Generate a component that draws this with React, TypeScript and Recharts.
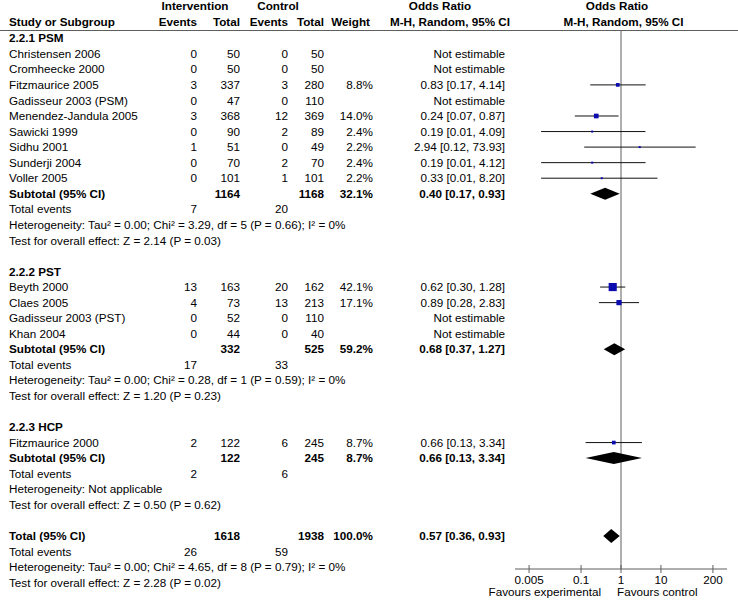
import React from 'react';
import { ComposedChart, XAxis, YAxis, Scatter, ReferenceLine } from 'recharts';

// studies, in plot order
const studyNames = [
  'Christensen 2006', 'Cromheecke 2000', 'Fitzmaurice 2005', 'Gadisseur 2003 (PSM)',
  'Menendez-Jandula 2005', 'Sawicki 1999', 'Sidhu 2001', 'Sunderji 2004', 'Voller 2005',
  'Beyth 2000', 'Claes 2005', 'Gadisseur 2003 (PST)', 'Khan 2004',
  'Fitzmaurice 2000',
];
const studyGroup = [0, 0, 0, 0, 0, 0, 0, 0, 0, 1, 1, 1, 1, 2];
const intEvents = [0, 0, 3, 0, 3, 0, 1, 0, 0, 13, 4, 0, 0, 2];
const intTotals = [50, 50, 337, 47, 368, 90, 51, 70, 101, 163, 73, 52, 44, 122];
const ctrlEvents = [0, 0, 3, 0, 12, 2, 0, 2, 1, 20, 13, 0, 0, 6];
const ctrlTotals = [50, 50, 280, 110, 369, 89, 49, 70, 101, 162, 213, 110, 40, 245];
const weights = [null, null, 8.8, null, 14.0, 2.4, 2.2, 2.4, 2.2, 42.1, 17.1, null, null, 8.7];
const oddsRatios = [null, null, 0.83, null, 0.24, 0.19, 2.94, 0.19, 0.33, 0.62, 0.89, null, null, 0.66];
const ciLow = [null, null, 0.17, null, 0.07, 0.01, 0.12, 0.01, 0.01, 0.30, 0.28, null, null, 0.13];
const ciHigh = [null, null, 4.14, null, 0.87, 4.09, 73.93, 4.12, 8.20, 1.28, 2.83, null, null, 3.34];

// subgroups
const groupTitles = ['2.2.1 PSM', '2.2.2 PST', '2.2.3 HCP'];
const groupIntTotals = [1164, 332, 122];
const groupCtrlTotals = [1168, 525, 245];
const groupWeights = [32.1, 59.2, 8.7];
const groupOR = [0.40, 0.68, 0.66];
const groupLow = [0.17, 0.37, 0.13];
const groupHigh = [0.93, 1.27, 3.34];
const groupIntEvents = [7, 17, 2];
const groupCtrlEvents = [20, 33, 6];
const groupHeterogeneity = [
  'Tau² = 0.00; Chi² = 3.29, df = 5 (P = 0.66); I² = 0%',
  'Tau² = 0.00; Chi² = 0.28, df = 1 (P = 0.59); I² = 0%',
  'Not applicable',
];
const groupOverall = ['Z = 2.14 (P = 0.03)', 'Z = 1.20 (P = 0.23)', 'Z = 0.50 (P = 0.62)'];

// pooled total
const totalN = [1618, 1938];
const totalEvents = [26, 59];
const totalWeight = 100.0;
const totalEstimate = [0.57, 0.36, 0.93];
const totalHeterogeneity = 'Tau² = 0.00; Chi² = 4.65, df = 8 (P = 0.79); I² = 0%';
const totalTest = 'Z = 2.28 (P = 0.02)';

const axisTicks = [0.005, 0.1, 1, 10, 200];

const FONT = '"Liberation Sans", Arial, sans-serif';
const FS = 11.7;
const GRAY = '#5f5f5f';
const BLUE = '#0b0bb0';
const AXIS_MIN = 1 / 450;
const AXIS_MAX = 450;
const ROW_TOP = -0.53;
const ROW_BOTTOM = 34.13;
const COL = { label: 9, ie: 197, it: 240, ce: 288, ct: 324, w: 373, or: 505 };

const fmtOR = (o: number, l: number, h: number) => `${o.toFixed(2)} [${l.toFixed(2)}, ${h.toFixed(2)}]`;

type Row = {
  row: number;
  kind: 'group' | 'study' | 'subtotal' | 'events' | 'het' | 'test' | 'total';
  label: string;
  ie?: string; it?: string; ce?: string; ct?: string; w?: string; or?: string;
};

const rows: Row[] = [];
const studyPoints: { x: number; y: number; w: number }[] = [];
const ciSegments: { lo: number; hi: number; y: number }[] = [];
const diamonds: { or: number; lo: number; hi: number; y: number; half: number }[] = [];

let r = 0;
groupTitles.forEach((title, g) => {
  rows.push({ row: r++, kind: 'group', label: title });
  studyNames.forEach((name, i) => {
    if (studyGroup[i] !== g) return;
    const or = oddsRatios[i];
    const w = weights[i];
    rows.push({
      row: r, kind: 'study', label: name,
      ie: String(intEvents[i]), it: String(intTotals[i]),
      ce: String(ctrlEvents[i]), ct: String(ctrlTotals[i]),
      w: w != null ? `${w.toFixed(1)}%` : '',
      or: or != null ? fmtOR(or, ciLow[i] as number, ciHigh[i] as number) : 'Not estimable',
    });
    if (or != null) {
      studyPoints.push({ x: or, y: r, w: w as number });
      ciSegments.push({ lo: ciLow[i] as number, hi: ciHigh[i] as number, y: r });
    }
    r++;
  });
  rows.push({
    row: r, kind: 'subtotal', label: 'Subtotal (95% CI)',
    it: String(groupIntTotals[g]), ct: String(groupCtrlTotals[g]),
    w: `${groupWeights[g].toFixed(1)}%`, or: fmtOR(groupOR[g], groupLow[g], groupHigh[g]),
  });
  diamonds.push({ or: groupOR[g], lo: groupLow[g], hi: groupHigh[g], y: r, half: 6 });
  r++;
  rows.push({ row: r++, kind: 'events', label: 'Total events', ie: String(groupIntEvents[g]), ce: String(groupCtrlEvents[g]) });
  rows.push({ row: r++, kind: 'het', label: `Heterogeneity: ${groupHeterogeneity[g]}` });
  rows.push({ row: r++, kind: 'test', label: `Test for overall effect: ${groupOverall[g]}` });
  r++; // blank line between subgroups
});
rows.push({
  row: r, kind: 'total', label: 'Total (95% CI)',
  it: String(totalN[0]), ct: String(totalN[1]),
  w: `${totalWeight.toFixed(1)}%`, or: fmtOR(totalEstimate[0], totalEstimate[1], totalEstimate[2]),
});
diamonds.push({ or: totalEstimate[0], lo: totalEstimate[1], hi: totalEstimate[2], y: r, half: 7 });
r++;
rows.push({ row: r++, kind: 'events', label: 'Total events', ie: String(totalEvents[0]), ce: String(totalEvents[1]) });
rows.push({ row: r++, kind: 'het', label: `Heterogeneity: ${totalHeterogeneity}` });
rows.push({ row: r++, kind: 'test', label: `Test for overall effect: ${totalTest}` });

const rowByIndex = new Map(rows.map((row) => [row.row, row]));
const rowTicks = rows.map((row) => row.row);

function RowTick(props: any) {
  const row = rowByIndex.get(props.payload?.value);
  if (!row) return <g />;
  const y = props.y;
  const bold = row.kind === 'group' || row.kind === 'subtotal' || row.kind === 'total';
  const common = { y, dy: '0.35em', fontSize: FS, fontFamily: FONT, fill: '#000', fontWeight: bold ? 700 : 400 };
  const cell = (x: number, v?: string) =>
    v ? <text {...common} x={x} textAnchor="end">{v}</text> : null;
  return (
    <g>
      <text {...common} x={COL.label} textAnchor="start">{row.label}</text>
      {cell(COL.ie, row.ie)}
      {cell(COL.it, row.it)}
      {cell(COL.ce, row.ce)}
      {cell(COL.ct, row.ct)}
      {cell(COL.w, row.w)}
      {cell(COL.or, row.or)}
    </g>
  );
}

function AxisTick(props: any) {
  const { x, y, payload } = props;
  return (
    <g>
      <line x1={x} x2={x} y1={y - 4} y2={y + 4} stroke={GRAY} />
      <text x={x} y={y + 11} dy="0.35em" textAnchor="middle" fontSize={FS} fontFamily={FONT} fill="#000">
        {String(payload.value)}
      </text>
    </g>
  );
}

function Square(props: any) {
  const { cx, cy, payload } = props;
  const s = Math.max(2, 1.25 * Math.sqrt(payload.w));
  return <rect x={cx - s / 2} y={cy - s / 2} width={s} height={s} fill={BLUE} />;
}

const diamondLine = (half: number) => (p: any) => {
  const [a, b, c] = p.points;
  return (
    <polygon
      points={`${a.x},${a.y} ${b.x},${b.y - half} ${c.x},${c.y} ${b.x},${b.y + half}`}
      fill="#000"
    />
  );
};

const hdr = { fontSize: FS, fontFamily: FONT, fontWeight: 700, fill: '#000', dy: '0.35em' } as const;

export default function App() {
  return (
    <div style={{ position: 'relative', width: 738, height: 600, background: '#fff' }}>
      <style>{'body{margin:0}'}</style>
      <ComposedChart
        width={738}
        height={600}
        margin={{ top: 30, right: 11, bottom: 0, left: 0 }}
        style={{ position: 'absolute', left: 0, top: 0 }}
      >
        <XAxis
          type="number"
          dataKey="x"
          scale="log"
          domain={[AXIS_MIN, AXIS_MAX]}
          allowDataOverflow
          ticks={axisTicks}
          interval={0}
          tickLine={false}
          tickSize={0}
          tickMargin={0}
          axisLine={{ stroke: GRAY }}
          tick={AxisTick}
          height={31}
        />
        <YAxis
          type="number"
          dataKey="y"
          domain={[ROW_TOP, ROW_BOTTOM]}
          reversed
          allowDataOverflow
          ticks={rowTicks}
          interval={0}
          tick={RowTick}
          tickLine={false}
          axisLine={false}
          width={515}
        />
        <ReferenceLine x={1} stroke={GRAY} />
        {ciSegments.map((s, i) => (
          <ReferenceLine
            key={`ci-${i}`}
            segment={[{ x: s.lo, y: s.y }, { x: s.hi, y: s.y }]}
            stroke="#111"
          />
        ))}
        <Scatter data={studyPoints} shape={Square} isAnimationActive={false} />
        {diamonds.map((d, i) => (
          <Scatter
            key={`dia-${i}`}
            data={[{ x: d.lo, y: d.y }, { x: d.or, y: d.y }, { x: d.hi, y: d.y }]}
            line={diamondLine(d.half)}
            lineType="joint"
            shape={() => <g />}
            isAnimationActive={false}
          />
        ))}
      </ComposedChart>
      <svg width={738} height={600} style={{ position: 'absolute', left: 0, top: 0, pointerEvents: 'none' }}>
        <text {...hdr} x={195} y={6} textAnchor="middle">Intervention</text>
        <text {...hdr} x={278} y={6} textAnchor="middle">Control</text>
        <text {...hdr} x={440} y={6} textAnchor="middle">Odds Ratio</text>
        <text {...hdr} x={617} y={6} textAnchor="middle">Odds Ratio</text>
        <text {...hdr} x={COL.label} y={22} textAnchor="start">Study or Subgroup</text>
        <text {...hdr} x={COL.ie} y={22} textAnchor="end">Events</text>
        <text {...hdr} x={COL.it} y={22} textAnchor="end">Total</text>
        <text {...hdr} x={COL.ce} y={22} textAnchor="end">Events</text>
        <text {...hdr} x={COL.ct} y={22} textAnchor="end">Total</text>
        <text {...hdr} x={370} y={22} textAnchor="end">Weight</text>
        <text {...hdr} x={450} y={22} textAnchor="middle">M-H, Random, 95% CI</text>
        <text {...hdr} x={623.5} y={22} textAnchor="middle">M-H, Random, 95% CI</text>
        <line x1={0} x2={738} y1={30.5} y2={30.5} stroke={GRAY} />
        <text x={601} y={592} dy="0.35em" textAnchor="end" fontSize={FS} fontFamily={FONT} fill="#000">
          Favours experimental
        </text>
        <text x={617} y={592} dy="0.35em" textAnchor="start" fontSize={FS} fontFamily={FONT} fill="#000">
          Favours control
        </text>
      </svg>
    </div>
  );
}
